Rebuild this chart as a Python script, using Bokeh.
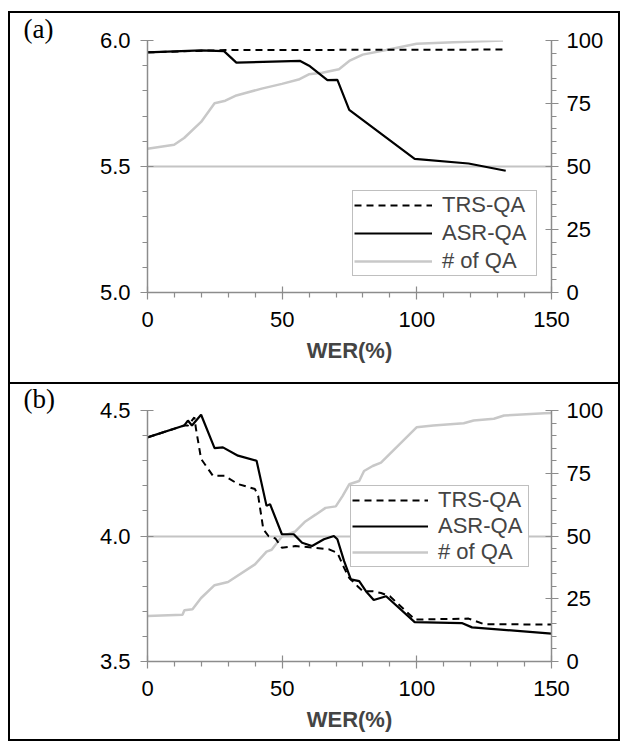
from bokeh.plotting import figure
from bokeh.models import (Range1d, LinearAxis, FixedTicker, Legend, LegendItem,
                          Spacer, PrintfTickFormatter)
from bokeh.layouts import column, row
from bokeh.embed import file_html
from bokeh.resources import INLINE

# ---------------- data: panel (a) ----------------
trs_a_x = [0, 29, 132]
trs_a_y = [5.953, 5.962, 5.964]
asr_a_x = [0, 20, 28.4, 33, 56.7, 60, 66.8, 70.5, 74.9, 99.2, 119.2, 133]
asr_a_y = [5.953, 5.961, 5.958, 5.912, 5.919, 5.90, 5.843, 5.844, 5.725, 5.53, 5.512, 5.483]
qa_a_x = [0, 9.9, 13.6, 19.9, 24.9, 28.9, 33, 42.4, 49.9, 56.1, 59.9, 64.9, 71.1,
          74.9, 79.9, 88.6, 99.9, 113.6, 132]
qa_a_y = [57.0, 58.6, 61.3, 67.7, 75.1, 76.1, 78.2, 80.9, 82.8, 84.5, 86.6, 87.2, 88.6,
          91.9, 94.4, 96.2, 98.7, 99.3, 100]

# ---------------- data: panel (b) ----------------
trs_b_x = [0, 13.6, 15, 17.4, 18, 19.9, 24.3, 28.6, 33.6, 39.9, 41.1, 43, 44.9, 47.5,
           49.9, 54.9, 62.4, 67.4, 70.5, 73, 74.9, 78, 80, 83.6, 86.7, 90, 98, 99.2,
           119.2, 124.9, 150]
trs_b_y = [4.393, 4.44, 4.44, 4.473, 4.427, 4.307, 4.24, 4.24, 4.207, 4.187, 4.16, 4.027,
           4.0, 3.99, 3.953, 3.96, 3.953, 3.947, 3.933, 3.873, 3.833, 3.80, 3.78, 3.78,
           3.773, 3.76, 3.68, 3.667, 3.671, 3.649, 3.647]
asr_b_x = [0, 13.6, 15, 16.5, 19.9, 24.9, 28, 33.6, 40.5, 44.2, 45.5, 49.9, 54.3, 57.4,
           61.1, 65.5, 69.2, 70.5, 73, 75.5, 78.6, 81.1, 84, 88.6, 99.2, 116.7, 120.5, 150]
asr_b_y = [4.393, 4.44, 4.46, 4.44, 4.483, 4.35, 4.353, 4.32, 4.30, 4.12, 4.127, 4.007,
           4.007, 3.973, 3.96, 3.987, 4.0, 3.987, 3.9, 3.827, 3.82, 3.78, 3.745, 3.76,
           3.657, 3.653, 3.636, 3.611]
qa_b_x = [0, 13, 13.7, 16.7, 19.9, 24.9, 29.9, 39.9, 44.2, 46.1, 49.9, 54.9, 58.6, 62.4,
          66.1, 69.9, 72.4, 74.9, 78.6, 80.4, 83.6, 86.7, 99.9, 106.1, 117.4, 121.1,
          128.6, 132.4, 147.4, 150]
qa_b_y = [18.1, 18.6, 20.4, 20.8, 25.3, 30.4, 31.7, 38.7, 43.8, 44.5, 49.8, 51.8, 55.8,
          58.5, 61.2, 61.8, 65.9, 70.6, 71.9, 75.9, 77.9, 79.2, 93.3, 94.0, 94.9, 96.0,
          96.7, 98.0, 98.9, 99.0]

x_ticks = [0, 50, 100, 150]
x_minor = [10, 20, 30, 40, 60, 70, 80, 90, 110, 120, 130, 140]
right_ticks = [0, 25, 50, 75, 100]
right_minor = [v for v in range(5, 100, 5) if v % 25]
labels = ["TRS-QA", "ASR-QA", "# of QA"]

FONT = "Liberation Sans"
AXIS_C = "#8c8c8c"
GRID_C = "#c4c4c4"
QA_C = "#c8c8c8"


def style_axis(ax):
    ax.axis_line_color = AXIS_C
    ax.axis_line_width = 1.5
    ax.major_tick_line_color = AXIS_C
    ax.minor_tick_line_color = AXIS_C
    ax.major_tick_line_width = 1.2
    ax.minor_tick_line_width = 1.2
    ax.major_tick_in = 6
    ax.major_tick_out = 7
    ax.minor_tick_in = 0
    ax.minor_tick_out = 5
    ax.major_label_text_font = FONT
    ax.major_label_text_font_size = "22px"
    ax.major_label_text_color = "black"


def make_panel(tag, ylo, yhi, trs_x, trs_y, asr_x, asr_y, qa_x, qa_y,
               height, top, bottom, leg_loc, leg_spacing, glyph_w, label_w, styles):
    p = figure(width=612, height=height, output_backend="svg", toolbar_location=None,
               x_range=Range1d(0, 150), y_range=Range1d(ylo, yhi),
               min_border_left=137, min_border_right=71,
               min_border_top=top, min_border_bottom=bottom)
    p.styles = styles
    p.outline_line_color = None
    p.background_fill_color = "white"
    p.border_fill_color = "white"
    p.extra_y_ranges = {"qa": Range1d(0, 100)}

    # panel tag "(a)" / "(b)" as the figure title, shifted left of the frame
    p.title.text = tag
    p.title.align = "left"
    p.title.offset = -124
    p.title.standoff = -6
    p.title.vertical_align = "bottom"
    p.title.text_font = "Liberation Serif"
    p.title.text_font_size = "27px"
    p.title.text_font_style = "normal"
    p.title.text_color = "black"

    step = (yhi - ylo) / 2
    p.yaxis.ticker = FixedTicker(ticks=[ylo, ylo + step, yhi],
                                 minor_ticks=[round(ylo + 0.1 * i, 2) for i in range(1, 10)])
    p.yaxis.formatter = PrintfTickFormatter(format="%.1f")
    p.yaxis.major_label_standoff = 10
    p.xaxis.ticker = FixedTicker(ticks=x_ticks, minor_ticks=x_minor)
    p.xaxis.axis_label = "WER(%)"
    p.xaxis.axis_label_text_font = FONT
    p.xaxis.axis_label_text_font_size = "22px"
    p.xaxis.axis_label_text_font_style = "bold"
    p.xaxis.axis_label_standoff = 8
    p.xaxis.major_label_standoff = 12

    ra = LinearAxis(y_range_name="qa",
                    ticker=FixedTicker(ticks=right_ticks, minor_ticks=right_minor))
    ra.major_label_standoff = 8
    p.add_layout(ra, "right")
    for ax in [p.xaxis[0], p.yaxis[0], ra]:
        style_axis(ax)

    p.xgrid.visible = False
    p.ygrid.ticker = FixedTicker(ticks=[ylo + step, yhi])
    p.ygrid.grid_line_color = GRID_C
    p.ygrid.grid_line_width = 2

    r_qa = p.line(qa_x, qa_y, y_range_name="qa", line_color=QA_C, line_width=2.5)
    r_trs = p.line(trs_x, trs_y, line_color="black", line_width=2, line_dash="7 5")
    r_asr = p.line(asr_x, asr_y, line_color="black", line_width=2.2)

    leg = Legend(items=[LegendItem(label=labels[0], renderers=[r_trs]),
                        LegendItem(label=labels[1], renderers=[r_asr]),
                        LegendItem(label=labels[2], renderers=[r_qa])],
                 location=leg_loc)
    leg.label_text_font = FONT
    leg.label_text_font_size = "22px"
    leg.glyph_width = glyph_w
    leg.glyph_height = 20
    leg.label_height = 20
    leg.label_width = label_w
    leg.label_standoff = 10
    leg.spacing = leg_spacing
    leg.padding = 1
    leg.margin = 0
    leg.border_line_color = "#808080"
    leg.border_line_width = 1.2
    leg.background_fill_color = "white"
    leg.background_fill_alpha = 1
    p.add_layout(leg)
    return p


p1 = make_panel("(a)", 5.0, 6.0, trs_a_x, trs_a_y, asr_a_x, asr_a_y, qa_a_x, qa_a_y,
                height=373, top=27, bottom=94, leg_loc=(205, 16),
                leg_spacing=2, glyph_w=78, label_w=93,
                styles={"border": "2px solid black"})
p2 = make_panel("(b)", 3.5, 4.5, trs_b_x, trs_b_y, asr_b_x, asr_b_y, qa_b_x, qa_b_y,
                height=357, top=26, bottom=80, leg_loc=(203, 94),
                leg_spacing=0, glyph_w=76, label_w=89,
                styles={"border": "2px solid black", "border-top": "none"})

layout = row(Spacer(width=8, height=10),
             column(Spacer(height=11, width=10), p1, p2, spacing=0), spacing=0)
open("out.html", "w").write(file_html(layout, INLINE))
